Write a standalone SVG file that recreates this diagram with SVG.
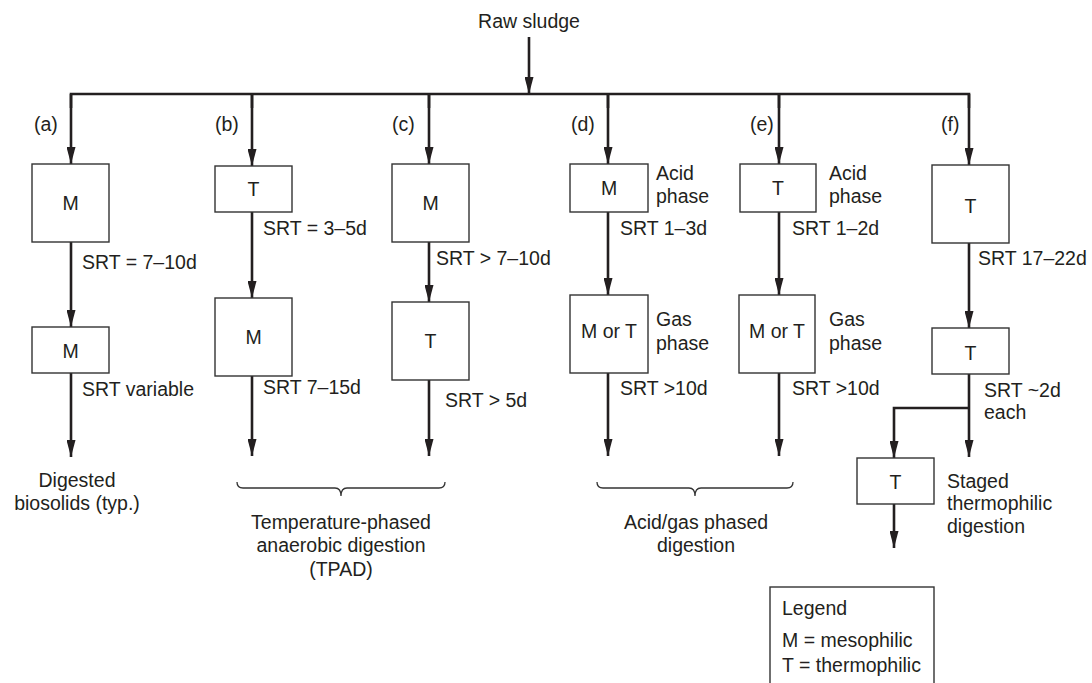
<svg xmlns="http://www.w3.org/2000/svg" width="1092" height="683" viewBox="0 0 1092 683">
<defs>
<marker id="ah" viewBox="0 0 17 9" refX="17" refY="4.5" markerWidth="17" markerHeight="9" markerUnits="userSpaceOnUse" orient="auto">
<path d="M0,0 L17,4.5 L0,9 z" fill="#231f20"/>
</marker>
<style>
text{font-family:"Liberation Sans",Arial,sans-serif;font-size:19.5px;fill:#231f20}
.c{text-anchor:middle}
.box{fill:#fff;stroke:#333;stroke-width:1.4}
.ln{fill:none;stroke:#231f20;stroke-width:2.6}
.ar{fill:none;stroke:#231f20;stroke-width:2.6;marker-end:url(#ah)}
.br{fill:none;stroke:#333;stroke-width:1.3}
</style>
</defs>
<rect width="1092" height="683" fill="#fff"/>
<g id="connectors">
<line class="ar" x1="529" y1="37" x2="529" y2="94"/>
<polyline class="ln" points="71,108 71,94 969,94 969,108"/>
<line class="ln" x1="252" y1="94" x2="252" y2="108"/>
<line class="ln" x1="429" y1="94" x2="429" y2="108"/>
<line class="ln" x1="608" y1="94" x2="608" y2="108"/>
<line class="ln" x1="779" y1="94" x2="779" y2="108"/>
<line class="ar" x1="71" y1="94" x2="71" y2="164"/>
<line class="ar" x1="71" y1="242" x2="71" y2="327"/>
<line class="ar" x1="71" y1="373" x2="71" y2="457"/>
<line class="ar" x1="252" y1="94" x2="252" y2="166"/>
<line class="ar" x1="252" y1="212" x2="252" y2="298"/>
<line class="ar" x1="252" y1="376" x2="252" y2="456"/>
<line class="ar" x1="429" y1="94" x2="429" y2="164"/>
<line class="ar" x1="429" y1="242" x2="429" y2="302"/>
<line class="ar" x1="429" y1="380" x2="429" y2="456"/>
<line class="ar" x1="608" y1="94" x2="608" y2="164"/>
<line class="ar" x1="608" y1="212" x2="608" y2="295"/>
<line class="ar" x1="608" y1="373" x2="608" y2="456"/>
<line class="ar" x1="779" y1="94" x2="779" y2="164"/>
<line class="ar" x1="779" y1="212" x2="779" y2="295"/>
<line class="ar" x1="779" y1="373" x2="779" y2="456"/>
<line class="ar" x1="969" y1="94" x2="969" y2="165"/>
<line class="ar" x1="969" y1="243" x2="969" y2="328"/>
<line class="ar" x1="969" y1="374" x2="969" y2="457"/>
<polyline class="ar" points="969,408 894,408 894,458"/>
<line class="ar" x1="894" y1="504" x2="894" y2="548"/>
</g>
<g id="raw"><text class="c" x="529" y="28">Raw sludge</text></g>
<g id="labels">
<text x="34" y="131">(a)</text>
<text x="215" y="131">(b)</text>
<text x="392" y="131">(c)</text>
<text x="571" y="131">(d)</text>
<text x="750" y="131">(e)</text>
<text x="941" y="131">(f)</text>
</g>
<g id="a1"><rect class="box" x="32" y="164" width="77" height="78"/><text class="c" x="70.5" y="210">M</text></g>
<g id="a2"><rect class="box" x="32" y="327" width="77" height="46"/><text class="c" x="70.5" y="358">M</text></g>
<g id="b1"><rect class="box" x="215" y="166" width="77" height="46"/><text class="c" x="253.5" y="196">T</text></g>
<g id="b2"><rect class="box" x="215" y="298" width="77" height="78"/><text class="c" x="253.5" y="344">M</text></g>
<g id="c1"><rect class="box" x="392" y="164" width="77" height="78"/><text class="c" x="430.5" y="210">M</text></g>
<g id="c2"><rect class="box" x="392" y="302" width="77" height="78"/><text class="c" x="430.5" y="348">T</text></g>
<g id="d1"><rect class="box" x="570" y="164" width="78" height="48"/><text class="c" x="609" y="195">M</text></g>
<g id="d2"><rect class="box" x="570" y="295" width="78" height="78"/><text class="c" x="609" y="338">M or T</text></g>
<g id="e1"><rect class="box" x="740" y="164" width="76" height="48"/><text class="c" x="778" y="195">T</text></g>
<g id="e2"><rect class="box" x="739" y="295" width="76" height="78"/><text class="c" x="777" y="338">M or T</text></g>
<g id="f1"><rect class="box" x="932" y="165" width="77" height="78"/><text class="c" x="970.5" y="213">T</text></g>
<g id="f2"><rect class="box" x="932" y="328" width="77" height="46"/><text class="c" x="970.5" y="360">T</text></g>
<g id="f3"><rect class="box" x="857" y="458" width="77" height="46"/><text class="c" x="895.5" y="489">T</text></g>
<g id="annotations">
<text x="82" y="269">SRT = 7–10d</text>
<text x="82" y="396">SRT variable</text>
<text class="c" x="77" y="487">Digested</text>
<text class="c" x="77" y="510">biosolids (typ.)</text>
<text x="263" y="235">SRT = 3–5d</text>
<text x="263" y="394">SRT 7–15d</text>
<text x="436" y="265">SRT &gt; 7–10d</text>
<text x="445" y="407">SRT &gt; 5d</text>
<text x="656" y="180">Acid</text>
<text x="656" y="203">phase</text>
<text x="620" y="235">SRT 1–3d</text>
<text x="656" y="326">Gas</text>
<text x="656" y="350">phase</text>
<text x="620" y="395">SRT &gt;10d</text>
<text x="829" y="180">Acid</text>
<text x="829" y="203">phase</text>
<text x="792" y="235">SRT 1–2d</text>
<text x="829" y="326">Gas</text>
<text x="829" y="350">phase</text>
<text x="792" y="395">SRT &gt;10d</text>
<text x="978" y="265">SRT 17–22d</text>
<text x="984" y="397">SRT ~2d</text>
<text x="984" y="419">each</text>
<text x="947" y="488">Staged</text>
<text x="947" y="510">thermophilic</text>
<text x="947" y="533">digestion</text>
</g>
<g id="tpad">
<path class="br" d="M237,482 q0,6 6,6 h92 q6,0 6,8 q0,-8 6,-8 h92 q6,0 6,-6"/>
<text class="c" x="341" y="529">Temperature-phased</text>
<text class="c" x="341" y="552">anaerobic digestion</text>
<text class="c" x="341" y="576">(TPAD)</text>
</g>
<g id="acidgas">
<path class="br" d="M597,482 q0,6 6,6 h86 q6,0 6,8 q0,-8 6,-8 h86 q6,0 6,-6"/>
<text class="c" x="696" y="529">Acid/gas phased</text>
<text class="c" x="696" y="552">digestion</text>
</g>
<g id="legend">
<rect class="box" x="770" y="587" width="164" height="110"/>
<text x="782" y="615">Legend</text>
<text x="782" y="647">M = mesophilic</text>
<text x="782" y="672">T = thermophilic</text>
</g>
</svg>
